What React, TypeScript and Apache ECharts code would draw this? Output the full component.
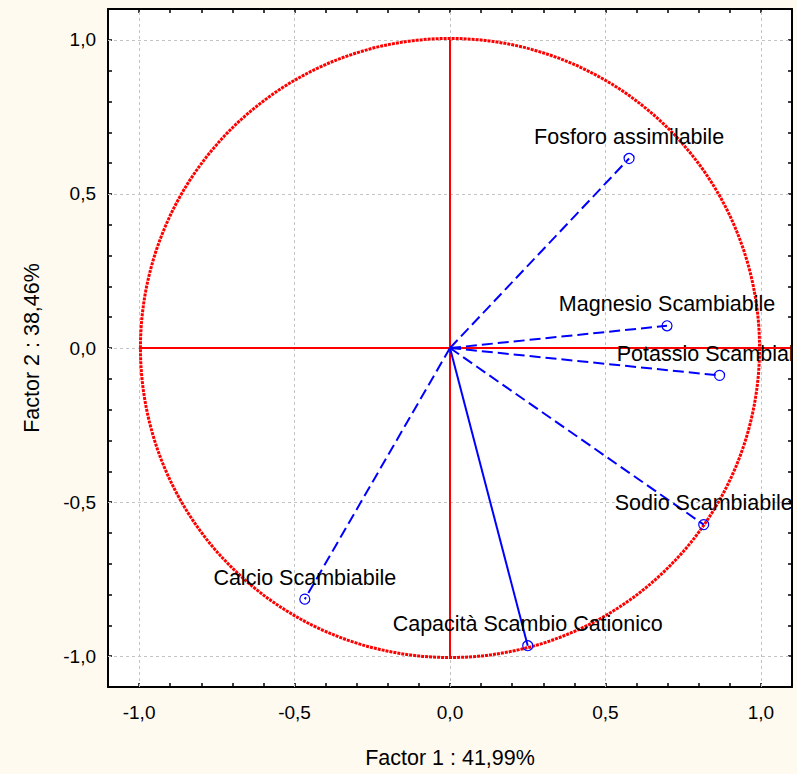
import React, { useEffect, useRef } from "react";
import * as echarts from "echarts";

const variables = [
  "Fosforo assimilabile",
  "Magnesio Scambiabile",
  "Potassio Scambiabile",
  "Sodio Scambiabile",
  "Capacità Scambio Cationico",
  "Calcio Scambiabile",
];
const factor1 = [0.576, 0.698, 0.867, 0.816, 0.25, -0.467];
const factor2 = [0.615, 0.072, -0.089, -0.573, -0.966, -0.815];
const lineTypes = ["dashed", "dashed", "dashed", "dashed", "solid", "dashed"];
const gridTicks = [-1, -0.5, 0, 0.5, 1];
const xName = "Factor 1 : 41,99%";
const yName = "Factor 2 : 38,46%";

const FONT = 'Arial, "Liberation Sans", sans-serif';
const BG = "#fffaf0";

function fmt(v: number): string {
  const r = Math.round(v * 10) / 10;
  if (Math.abs(r * 2 - Math.round(r * 2)) > 1e-6) return "";
  const val = Math.abs(r) < 1e-9 ? 0 : r;
  return val.toFixed(1).replace(".", ",");
}

export default function App() {
  const ref = useRef<HTMLDivElement>(null);
  useEffect(() => {
    if (!ref.current) return;
    const chart = echarts.init(ref.current, null, { renderer: "svg" });
    const tick = { show: true, inside: true, length: 4, lineStyle: { color: "#000", width: 1.5 } };
    const axLine = { show: true, onZero: false, lineStyle: { color: "#000", width: 2 } };
    const baseAxis = {
      type: "value" as const,
      min: -1.1,
      max: 1.1,
      interval: 0.1,
      axisLine: axLine,
      axisTick: tick,
      splitLine: { show: false },
    };
    const vectorSeries = variables.map((name, i) => ({
      type: "line",
      name,
      data: [
        { value: [0, 0], symbol: "none", label: { show: false } },
        { value: [factor1[i], factor2[i]] },
      ],
      symbol: "circle",
      symbolSize: 10,
      showSymbol: true,
      lineStyle: {
        color: "#0000ff",
        width: 2,
        type: lineTypes[i] === "dashed" ? [11, 5] : "solid",
      },
      itemStyle: { color: "rgba(0,0,0,0)", borderColor: "#0000ff", borderWidth: 1.2 },
      label: {
        show: true,
        position: "top",
        distance: 5,
        formatter: name,
        fontSize: 21.5,
        color: "#000",
        fontFamily: FONT,
      },
      z: 5,
      silent: true,
    }));
    chart.setOption({
      animation: false,
      backgroundColor: BG,
      grid: {
        show: true,
        left: 108,
        top: 9,
        width: 684,
        height: 682,
        backgroundColor: "#ffffff",
        borderWidth: 0,
      },
      xAxis: [
        {
          ...baseAxis,
          position: "bottom",
          axisLabel: { formatter: fmt, fontSize: 19, color: "#000", fontFamily: FONT, margin: 16 },
          name: xName,
          nameLocation: "middle",
          nameGap: 60,
          nameTextStyle: { fontSize: 21.5, color: "#000", fontFamily: FONT },
        },
        { ...baseAxis, position: "top", axisLabel: { show: false } },
      ],
      yAxis: [
        {
          ...baseAxis,
          position: "left",
          axisLabel: { formatter: fmt, fontSize: 19, color: "#000", fontFamily: FONT, margin: 12 },
          name: yName,
          nameLocation: "middle",
          nameGap: 65,
          nameTextStyle: { fontSize: 21.5, color: "#000", fontFamily: FONT },
        },
        { ...baseAxis, position: "right", axisLabel: { show: false } },
      ],
      series: [
        {
          type: "line",
          data: [
            [-1, 0],
            [1.1, 0],
          ],
          symbol: "none",
          lineStyle: { color: "#ff0000", width: 2 },
          silent: true,
          z: 3,
          markLine: {
            silent: true,
            symbol: "none",
            label: { show: false },
            lineStyle: { color: "#c4c4c4", type: [3, 3], width: 1 },
            data: [
              ...gridTicks.map((v) => ({ xAxis: v })),
              ...gridTicks.map((v) => ({ yAxis: v })),
            ],
            z: 1,
          },
        },
        {
          type: "line",
          data: [
            [0, -1],
            [0, 1],
          ],
          symbol: "none",
          lineStyle: { color: "#ff0000", width: 2 },
          silent: true,
          z: 3,
        },
        {
          type: "custom",
          data: [[0, 0, 1]],
          silent: true,
          z: 3,
          renderItem: (_params: any, api: any) => {
            const c = api.coord([api.value(0), api.value(1)]);
            const s = api.size([api.value(2), api.value(2)]);
            return {
              type: "circle",
              shape: { cx: c[0], cy: c[1], r: (s[0] + s[1]) / 2 },
              style: { fill: "none", stroke: "#ff0000", lineWidth: 3, lineDash: [3, 1] },
            };
          },
        },
        ...vectorSeries,
      ],
      graphic: [
        {
          type: "rect",
          shape: { x: 793, y: 0, width: 10, height: 774 },
          style: { fill: BG },
          z: 100,
          silent: true,
        },
      ],
    });
    return () => chart.dispose();
  }, []);
  return (
    <div
      ref={ref}
      style={{ position: "fixed", left: 0, top: 0, width: 797, height: 774, background: BG }}
    />
  );
}
